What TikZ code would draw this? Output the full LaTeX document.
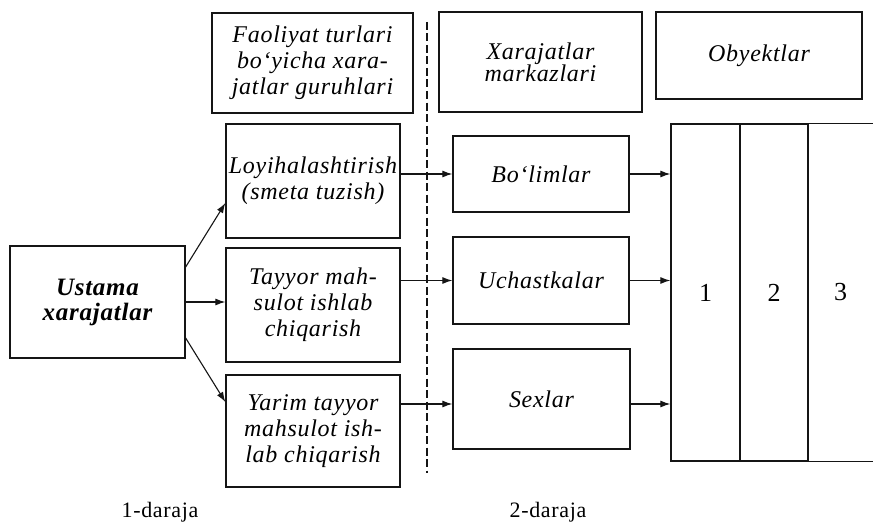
\documentclass[tikz,border=0pt]{standalone}
\usepackage{fontspec}
\setmainfont[LetterSpace=3]{Liberation Serif}
\usetikzlibrary{arrows.meta}
\definecolor{ln}{HTML}{151515}

\begin{document}
\begin{tikzpicture}[x=1pt,y=-1pt,
    box/.style={draw=ln,line width=1.3pt,inner xsep=0pt,align=center,font=\fontsize{24}{26}\selectfont\itshape},
    col/.style={draw=ln,line width=1.3pt,minimum height=337pt,font=\fontsize{26}{26}\selectfont},
    arr/.style={draw=ln,line width=1.1pt,-{Latex[length=10pt,width=7pt]}}]
            \useasboundingbox[fill=white] (0,0) rectangle (873,527);
            \node[box,minimum width=201pt,minimum height=100pt] (grp) at (312.5,63) {Faoliyat turlari\\bo‘yicha xara-\\jatlar guruhlari};
            \node[box,minimum width=203pt,minimum height=100pt] (mrk) at (540.5,62) {Xarajatlar\\[-4pt]markazlari};
            \node[box,minimum width=206pt,minimum height=87pt] (oby) at (759,55.5) {Obyektlar};
            \node[box,minimum width=175pt,minimum height=112pt,font=\fontsize{25}{25}\selectfont\bfseries\itshape] (ust) at (97.5,302) {Ustama\\xarajatlar};
            \node[box,minimum width=174pt,minimum height=114pt] (loy) at (313,181) {Loyihalashtirish\\(smeta tuzish)};
            \node[box,minimum width=174pt,minimum height=114pt] (tay) at (313,305) {Tayyor mah-\\sulot ishlab\\chiqarish};
            \node[box,minimum width=174pt,minimum height=112pt] (yar) at (313,431) {Yarim tayyor\\mahsulot ish-\\lab chiqarish};
            \node[box,minimum width=176pt,minimum height=76pt] (bol) at (541,174) {Bo‘limlar};
            \node[box,minimum width=176pt,minimum height=87pt] (uch) at (541,280.5) {Uchastkalar};
            \node[box,minimum width=177pt,minimum height=100pt] (sex) at (541.5,399) {Sexlar};
            \node[col,minimum width=69pt] (ob1) at (705.5,292.5) {1};
            \node[col,minimum width=68pt] (ob2) at (774,292.5) {2};
            \node[col,draw=none,minimum width=65pt] (ob3) at (840.5,292.5) {3};
            \draw[ln,line width=1.3pt] (ob2.north east) -- (ob3.north east);
            \draw[ln,line width=1.3pt] (ob2.south east) -- (ob3.south east);
            \draw[ln,line width=1.4pt,dash pattern=on 8pt off 3.5pt] (427,22) -- (427,473);
            \draw[arr] ([yshift=35pt]ust.east) -- ([yshift=-22pt]loy.west);
            \draw[arr] (ust.east) -- (ust.east -| tay.west);
            \draw[arr] ([yshift=-36pt]ust.east) -- ([yshift=29pt]yar.west);
            \draw[arr] (bol.west -| loy.east) -- (bol.west);
            \draw[arr] (uch.west -| tay.east) -- (uch.west);
            \draw[arr] ([yshift=-5pt]sex.west -| yar.east) -- ([yshift=-5pt]sex.west);
            \draw[arr] (bol.east) -- (bol.east -| ob1.west);
            \draw[arr] (uch.east) -- (uch.east -| ob1.west);
            \draw[arr] ([yshift=-5pt]sex.east) -- ([yshift=-5pt]sex.east -| ob1.west);
            \node[font=\fontsize{22}{22}\selectfont] (d1) at (160,512) {1-daraja};
            \node[font=\fontsize{22}{22}\selectfont] (d2) at (548,512) {2-daraja};
          \end{tikzpicture}
\end{document}
